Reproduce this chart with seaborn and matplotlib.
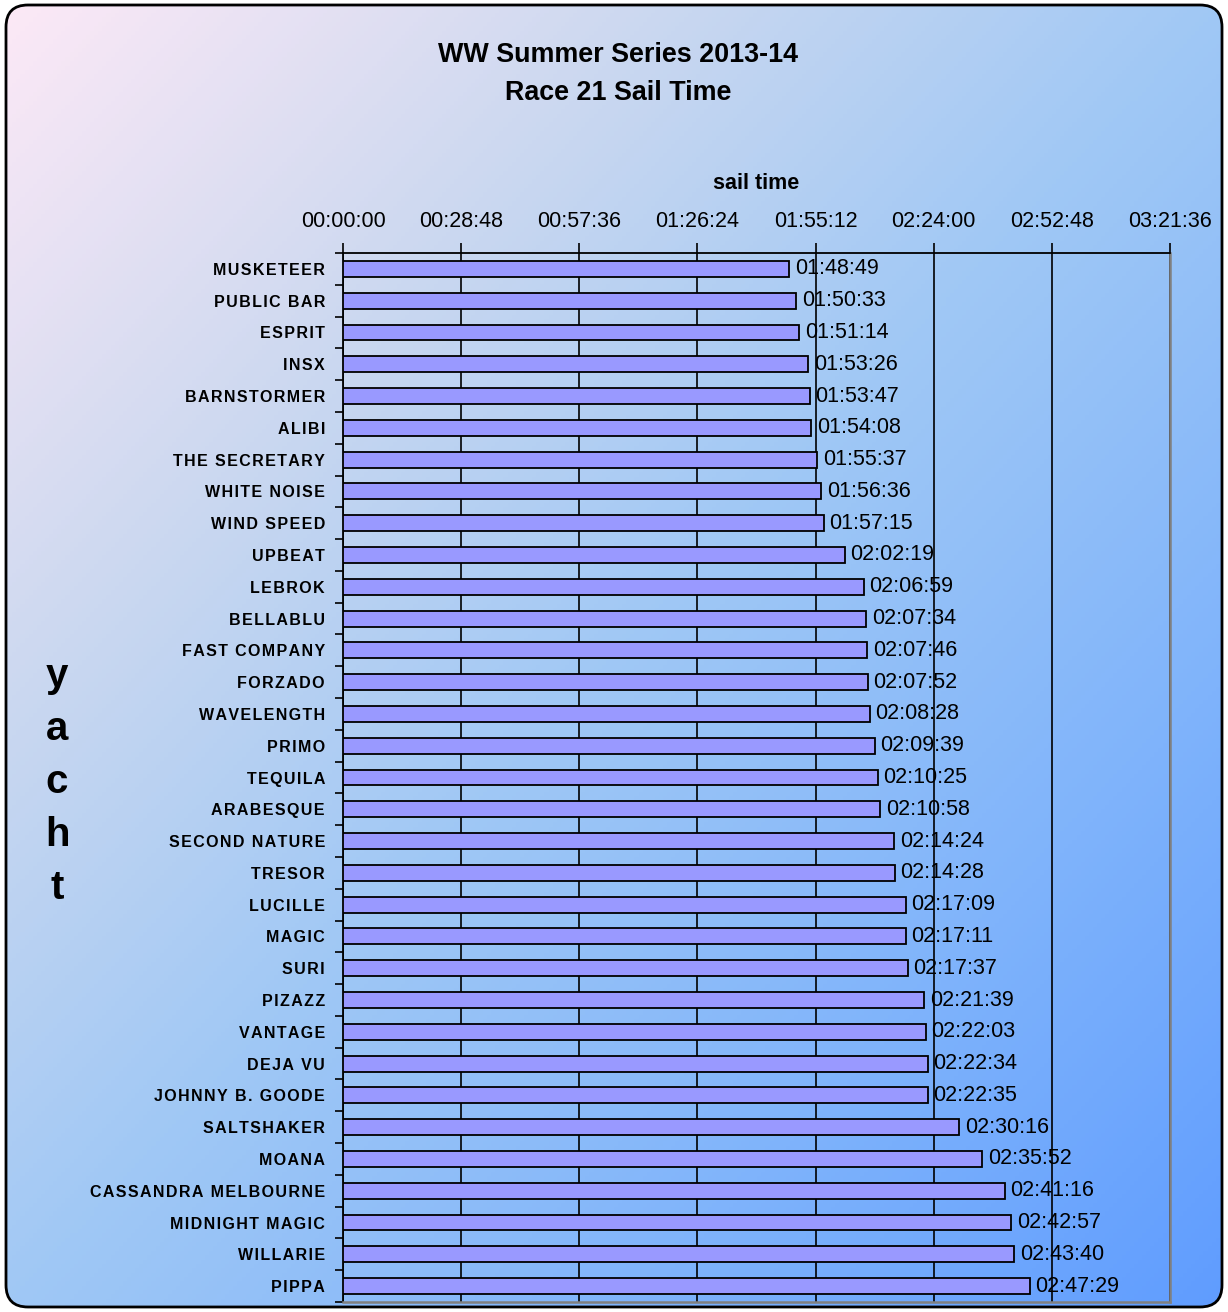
import numpy as np
import pandas as pd
import matplotlib
matplotlib.use("Agg")
import matplotlib.pyplot as plt
from matplotlib.patches import FancyBboxPatch
from matplotlib.colors import LinearSegmentedColormap
from matplotlib.ticker import FixedLocator, FuncFormatter
import seaborn as sns

yachts = ["MUSKETEER", "PUBLIC BAR", "ESPRIT", "INSX", "BARNSTORMER", "ALIBI",
          "THE SECRETARY", "WHITE NOISE", "WIND SPEED", "UPBEAT", "LEBROK",
          "BELLABLU", "FAST COMPANY", "FORZADO", "WAVELENGTH", "PRIMO", "TEQUILA",
          "ARABESQUE", "SECOND NATURE", "TRESOR", "LUCILLE", "MAGIC", "SURI",
          "PIZAZZ", "VANTAGE", "DEJA VU", "JOHNNY B. GOODE", "SALTSHAKER", "MOANA",
          "CASSANDRA MELBOURNE", "MIDNIGHT MAGIC", "WILLARIE", "PIPPA"]
sail_times = ["01:48:49", "01:50:33", "01:51:14", "01:53:26", "01:53:47", "01:54:08",
              "01:55:37", "01:56:36", "01:57:15", "02:02:19", "02:06:59",
              "02:07:34", "02:07:46", "02:07:52", "02:08:28", "02:09:39", "02:10:25",
              "02:10:58", "02:14:24", "02:14:28", "02:17:09", "02:17:11", "02:17:37",
              "02:21:39", "02:22:03", "02:22:34", "02:22:35", "02:30:16", "02:35:52",
              "02:41:16", "02:42:57", "02:43:40", "02:47:29"]
tick_step = 1728      # 00:28:48
x_max = 12096         # 03:21:36


def to_sec(s):
    h, m, sec = [int(v) for v in s.split(":")]
    return h * 3600 + m * 60 + sec


def fmt_time(x, pos=None):
    x = int(round(x))
    return f"{x // 3600:02d}:{(x % 3600) // 60:02d}:{x % 60:02d}"


df = pd.DataFrame({"yacht": yachts, "seconds": [to_sec(t) for t in sail_times]})

sns.set_theme(style="white")
plt.rcParams["font.family"] = ["Liberation Sans", "DejaVu Sans"]
plt.rcParams["text.color"] = "black"
plt.rcParams["axes.labelcolor"] = "black"
plt.rcParams["xtick.color"] = "black"
plt.rcParams["ytick.color"] = "black"

W, H = 1228, 1312
fig = plt.figure(figsize=(W / 100, H / 100), dpi=100)
fig.patch.set_facecolor("white")

# background gradient inside rounded frame
bg = fig.add_axes([0, 0, 1, 1], zorder=-10)
bg.set_axis_off()
gx, gy = np.meshgrid(np.linspace(0, 1, 300), np.linspace(0, 1, 300))
grad = (gx + gy) / 2
cmap = LinearSegmentedColormap.from_list(
    "bg", [(0, "#fde9f6"), (0.27, "#cbd8f0"), (0.5, "#a0c8f5"), (0.75, "#80b4fb"), (1, "#5f9cff")])
im = bg.imshow(grad, cmap=cmap, extent=[0, 1, 0, 1], origin="upper", aspect="auto",
               transform=fig.transFigure)
frame = FancyBboxPatch((6 / W, 5 / H), 1216 / W, 1302 / H,
                       boxstyle="round,pad=0,rounding_size=%f" % (22 / W),
                       mutation_aspect=W / H, transform=fig.transFigure,
                       facecolor="none", edgecolor="black", linewidth=2, zorder=5)
fig.patches.append(frame)
im.set_clip_path(frame)

ax = fig.add_axes([343 / W, 1 - 1302 / H, 827 / W, 1049 / H])
ax.patch.set_alpha(0)
sns.barplot(data=df, x="seconds", y="yacht", orient="h", color="#9999ff",
            saturation=1, edgecolor="black", linewidth=1.3, width=0.5, ax=ax, zorder=3)
ax.bar_label(ax.containers[0], labels=sail_times, padding=4, fontsize=15.5,
             color="black", zorder=4)

ax.set_xlim(0, x_max)
ax.set_ylim(len(yachts) - 0.5, -0.5)
ax.xaxis.tick_top()
ax.xaxis.set_label_position("top")
ax.set_xticks(np.arange(0, x_max + 1, tick_step))
ax.xaxis.set_major_formatter(FuncFormatter(fmt_time))
ax.tick_params(axis="x", which="major", direction="out", length=7, width=1.2,
               color="black", pad=8, labelsize=15.5, top=True, bottom=False)
ax.grid(axis="x", color="black", linewidth=1.2, zorder=0)
ax.grid(axis="y", visible=False)
ax.set_axisbelow(True)

ax.set_yticks(range(len(yachts)))
ax.set_yticklabels(["\u200a".join(n) for n in yachts], fontsize=11.5, fontweight="bold")
ax.yaxis.set_minor_locator(FixedLocator(np.arange(-0.5, len(yachts), 1)))
ax.tick_params(axis="y", which="major", length=0, pad=13)
ax.tick_params(axis="y", which="minor", direction="out", length=6, width=1.2,
               color="black", left=True)

ax.set_xlabel("sail time", fontsize=15.5, fontweight="bold", labelpad=16)
ax.set_ylabel("")

for side in ["top", "left"]:
    ax.spines[side].set_color("black")
    ax.spines[side].set_linewidth(1.3)
for side in ["right", "bottom"]:
    ax.spines[side].set_visible(True)
    ax.spines[side].set_color("#808080")
    ax.spines[side].set_linewidth(1.8)

fig.text(618 / W, 1 - 74 / H, "WW Summer Series 2013-14\nRace 21 Sail Time",
         ha="center", va="center", fontsize=19.4, fontweight="bold", linespacing=1.6)
fig.text(57 / W, 1 - 782 / H, "\n".join("yacht"), ha="center", va="center",
         multialignment="center", fontsize=29, fontweight="bold", linespacing=1.5)

fig.savefig("out.png", dpi=100)
